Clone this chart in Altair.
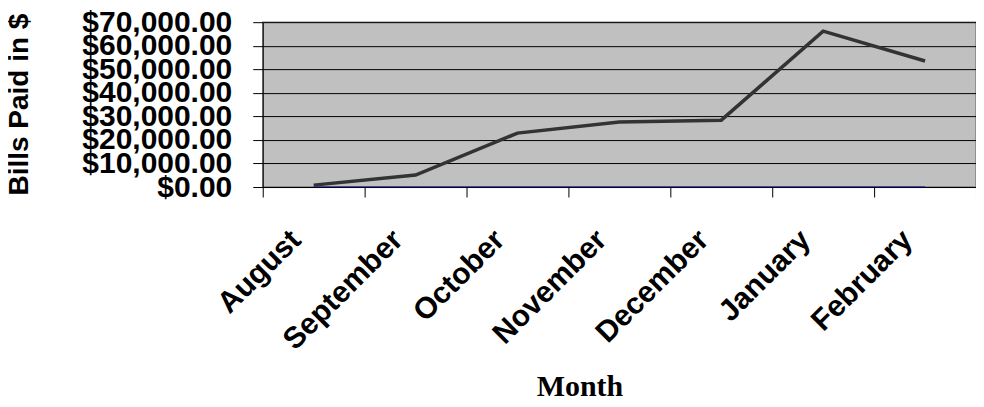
import altair as alt
import pandas as pd

months = ["August", "September", "October", "November", "December", "January", "February"]
bills = [800, 5100, 22900, 27600, 28400, 66200, 53500]
second_series = [0, 0, 0, 0, 0, 0, 0]
y_ticks = [0, 10000, 20000, 30000, 40000, 50000, 60000, 70000]

df = pd.DataFrame({"Month": months, "Bills": bills, "Other": second_series})

x_enc = alt.X(
    "Month:N",
    sort=months,
    scale=alt.Scale(type="band", paddingInner=0, paddingOuter=0),
    axis=alt.Axis(
        title="Month",
        labelAngle=-45,
        labelAlign="right",
        labelBaseline="middle",
        labelFont="Liberation Sans",
        labelFontWeight="bold",
        labelFontSize=30,
        labelColor="black",
        labelPadding=38,
        labelOffset=-18,
        labelOverlap=False,
        tickBand="extent",
        tickSize=10,
        tickColor="black",
        domainColor="black",
        grid=False,
        titleFont="Liberation Serif",
        titleFontSize=30,
        titleFontWeight="bold",
        titleColor="black",
        titleX=317,
        titleY=209,
        titleAlign="center",
        titleBaseline="alphabetic",
    ),
)

y_axis = alt.Axis(
    title="Bills Paid in $",
    format="$,.2f",
    values=y_ticks,
    labelFont="Liberation Sans",
    labelFontWeight="bold",
    labelFontSize=30,
    labelColor="black",
    labelPadding=21,
    labelOverlap=False,
    labelFlush=False,
    tickSize=10,
    tickColor="black",
    domainColor="black",
    grid=True,
    gridColor="black",
    gridOpacity=1,
    titleFont="Liberation Sans",
    titleFontSize=28,
    titleFontWeight="bold",
    titleColor="black",
    titleAngle=270,
    titleX=-243,
    titleY=82,
    titleAlign="center",
    titleBaseline="middle",
)

base = alt.Chart(df)

zero_line = base.mark_line(color="#000080", strokeWidth=1).encode(
    x=x_enc,
    y=alt.Y("Other:Q", scale=alt.Scale(domain=[0, 70000]), axis=y_axis),
)

main_line = base.mark_line(color="#333333", strokeWidth=3.5).encode(
    x=x_enc,
    y=alt.Y("Bills:Q", scale=alt.Scale(domain=[0, 70000]), axis=y_axis),
)

chart = (
    alt.layer(zero_line, main_line)
    .properties(
        width=714,
        height=165,
        autosize=alt.AutoSizeParams(type="none"),
        padding={"left": 255, "top": 14, "right": 0, "bottom": 212},
        background="white",
    )
    .configure_view(fill="#C0C0C0", stroke="#808080", strokeWidth=1.5)
)

chart.save("out.html", embed_options={"renderer": "svg", "actions": False})
